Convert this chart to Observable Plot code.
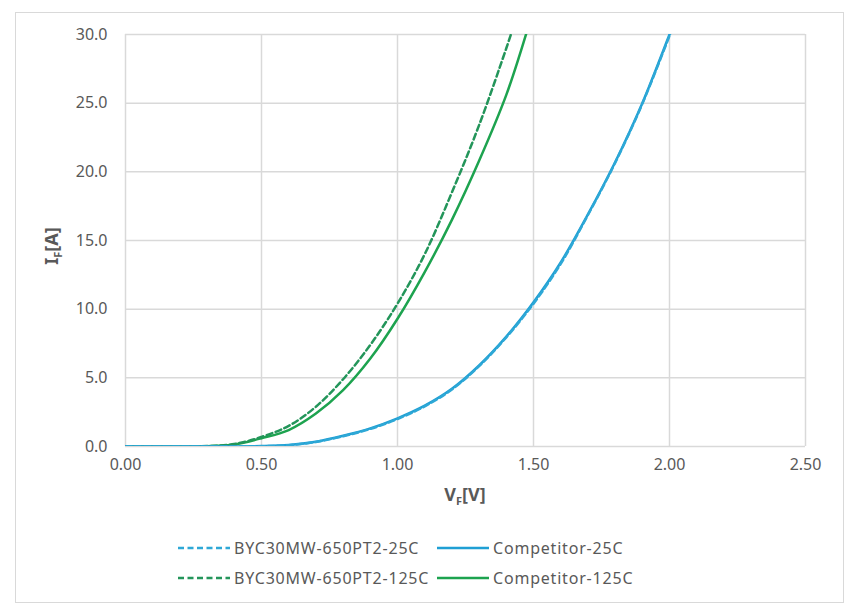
<!DOCTYPE html>
<html>
<head>
<meta charset="utf-8">
<script src="https://cdn.jsdelivr.net/npm/d3@7"></script>
<script src="https://cdn.jsdelivr.net/npm/@observablehq/plot@0.6"></script>
<style>
  html, body { margin: 0; padding: 0; background: #fff; }
  #frame { position: absolute; left: 15px; top: 12px; width: 829px; height: 591px; border: 1.5px solid #d9d9d9; box-sizing: border-box; }
  #chart { position: absolute; left: 0; top: 0; }
</style>
</head>
<body>
<div id="frame"></div>
<div id="chart"></div>
<script>
// ---- data ----
const seriesNames = ["BYC30MW-650PT2-25C", "Competitor-25C", "BYC30MW-650PT2-125C", "Competitor-125C"];

const vfByc25 = [0, 0.3, 0.5, 0.6, 0.7, 0.8, 0.9, 1.0, 1.1, 1.2, 1.3, 1.4, 1.5, 1.6, 1.7, 1.8, 1.9, 2.0, 2.01];
const ifByc25 = [0, 0.0, 0.02, 0.1, 0.33, 0.75, 1.28, 2.0, 2.92, 4.15, 5.85, 7.95, 10.4, 13.3, 16.85, 20.65, 24.95, 29.9, 30.4];

const vfComp25 = [0, 0.3, 0.5, 0.6, 0.7, 0.8, 0.9, 1.0, 1.1, 1.2, 1.3, 1.4, 1.5, 1.6, 1.7, 1.8, 1.9, 2.0, 2.01];
const ifComp25 = [0, 0.0, 0.03, 0.11, 0.35, 0.78, 1.32, 2.05, 2.97, 4.2, 5.9, 8.0, 10.5, 13.4, 16.9, 20.7, 25.0, 30.0, 30.5];

const vfByc125 = [0, 0.2, 0.3, 0.4, 0.5, 0.6, 0.7, 0.8, 0.9, 1.0, 1.1, 1.2, 1.3, 1.4, 1.43];
const ifByc125 = [0, 0.0, 0.03, 0.18, 0.7, 1.5, 2.9, 4.9, 7.4, 10.4, 14.0, 18.5, 23.4, 29.0, 30.8];

const vfComp125 = [0, 0.2, 0.3, 0.4, 0.5, 0.6, 0.7, 0.8, 0.9, 1.0, 1.1, 1.2, 1.3, 1.4, 1.48];
const ifComp125 = [0, 0.0, 0.02, 0.15, 0.6, 1.2, 2.4, 4.1, 6.4, 9.3, 12.7, 16.5, 20.8, 25.6, 30.5];

const xTicks = [0, 0.5, 1.0, 1.5, 2.0, 2.5];
const yTicks = [0, 5, 10, 15, 20, 25, 30];

const colors = {
  "BYC30MW-650PT2-25C": "#2ea8d6",
  "Competitor-25C": "#1f9fd4",
  "BYC30MW-650PT2-125C": "#23955a",
  "Competitor-125C": "#1da34f"
};
const dashed = {
  "BYC30MW-650PT2-25C": true,
  "Competitor-25C": false,
  "BYC30MW-650PT2-125C": true,
  "Competitor-125C": false
};

function rows(name, xs, ys) { return xs.map((x, i) => ({ series: name, vf: x, if: ys[i] })); }
const tables = {
  "BYC30MW-650PT2-25C": rows("BYC30MW-650PT2-25C", vfByc25, ifByc25),
  "Competitor-25C": rows("Competitor-25C", vfComp25, ifComp25),
  "BYC30MW-650PT2-125C": rows("BYC30MW-650PT2-125C", vfByc125, ifByc125),
  "Competitor-125C": rows("Competitor-125C", vfComp125, ifComp125)
};

const drawOrder = ["Competitor-125C", "BYC30MW-650PT2-125C", "Competitor-25C", "BYC30MW-650PT2-25C"];

const font = "'Noto Sans', 'Open Sans', sans-serif";
const textColor = "#595959";

const plot = Plot.plot({
  width: 865,
  height: 614,
  marginLeft: 125,
  marginRight: 60,
  marginTop: 34,
  marginBottom: 168,
  style: { fontFamily: font, fontSize: "16px", color: textColor, background: "transparent" },
  x: { domain: [0, 2.5], ticks: xTicks, tickFormat: d3.format(".2f"), label: null, tickSize: 0, tickPadding: 12 },
  y: { domain: [0, 30], ticks: yTicks, tickFormat: d3.format(".1f"), label: null, tickSize: 0, tickPadding: 18 },
  marks: [
    Plot.gridX(xTicks, { stroke: "#d9d9d9", strokeOpacity: 1, strokeWidth: 1.5 }),
    Plot.gridY(yTicks, { stroke: "#d9d9d9", strokeOpacity: 1, strokeWidth: 1.5 }),
    Plot.axisX({ ticks: xTicks, tickFormat: d3.format(".2f"), tickSize: 0, tickPadding: 12, fill: textColor, fontSize: 16 }),
    Plot.axisY({ ticks: yTicks, tickFormat: d3.format(".1f"), tickSize: 0, tickPadding: 18, fill: textColor, fontSize: 16 }),
    ...drawOrder.map(name => Plot.line(tables[name], {
      x: "vf", y: "if",
      stroke: colors[name],
      strokeWidth: 2.5,
      strokeDasharray: dashed[name] ? "6,3.5" : null,
      curve: "catmull-rom",
      clip: true
    }))
  ]
});

document.getElementById("chart").appendChild(plot);

// axis titles with subscripts and legend
const svg = d3.select(plot);
const yt = svg.append("text")
  .attr("transform", "translate(58,246) rotate(-90)")
  .attr("text-anchor", "middle")
  .attr("fill", textColor)
  .style("font-family", font)
  .style("font-size", "18px")
  .style("font-weight", "bold");
yt.append("tspan").text("I");
yt.append("tspan").attr("font-size", "11px").attr("dy", "4").text("F");
yt.append("tspan").attr("dy", "-4").text("[A]");

const xt = svg.append("text")
  .attr("x", 465).attr("y", 501)
  .attr("text-anchor", "middle")
  .attr("fill", textColor)
  .style("font-family", font)
  .style("font-size", "18px")
  .style("font-weight", "bold");
xt.append("tspan").text("V");
xt.append("tspan").attr("font-size", "11px").attr("dy", "4").text("F");
xt.append("tspan").attr("dy", "-4").text("[V]");

const legendItems = [
  { name: "BYC30MW-650PT2-25C", col: 0, row: 0 },
  { name: "Competitor-25C", col: 1, row: 0 },
  { name: "BYC30MW-650PT2-125C", col: 0, row: 1 },
  { name: "Competitor-125C", col: 1, row: 1 }
];
const colX = [178, 437];
const rowY = [548, 578];
const lg = svg.append("g").attr("text-anchor", "start");
legendItems.forEach(it => {
  const x0 = colX[it.col], y0 = rowY[it.row];
  lg.append("line")
    .attr("x1", x0).attr("x2", x0 + 52).attr("y1", y0).attr("y2", y0)
    .attr("stroke", colors[it.name]).attr("stroke-width", 2.5)
    .attr("stroke-dasharray", dashed[it.name] ? "6,3.5" : null);
  lg.append("text")
    .attr("x", x0 + 56).attr("y", y0).attr("dy", "0.35em")
    .attr("text-anchor", "start")
    .attr("fill", textColor)
    .style("font-family", font)
    .style("font-size", "16px")
    .style("letter-spacing", "0.8px")
    .text(it.name);
});
</script>
</body>
</html>
